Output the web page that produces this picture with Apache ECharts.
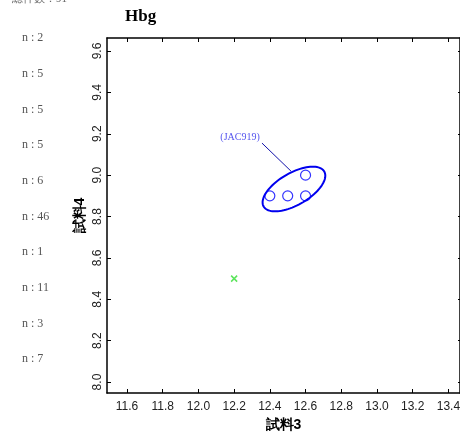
<!DOCTYPE html>
<html><head><meta charset="utf-8">
<script src="https://cdn.jsdelivr.net/npm/echarts@6/dist/echarts.min.js"></script>
<style>html,body{margin:0;padding:0;background:#fff}#c{width:460px;height:436px}</style>
</head><body><div id="c"></div>
<script>
const titleText = 'Hbg';
const xName = '試料3';
const yName = '試料4';
const xTicks = [11.6, 11.8, 12.0, 12.2, 12.4, 12.6, 12.8, 13.0, 13.2, 13.4];
const yTicks = [8.0, 8.2, 8.4, 8.6, 8.8, 9.0, 9.2, 9.4, 9.6];
const xRange = [11.488, 13.465];
const yRange = [7.947, 9.663];
const groupPoints = [[12.4, 8.9], [12.5, 8.9], [12.6, 8.9], [12.6, 9.0]];
const outlierPoints = [[12.2, 8.5]];
const groupLabel = '(JAC919)';
const ellipseCenter = [12.535, 8.933];
const labelAnchor = [12.233, 9.184];
const leaderLine = [[12.356, 9.155], [12.519, 9.019]];
const totalLabel = '総件数：91';
const countLabels = ['n : 2', 'n : 5', 'n : 5', 'n : 5', 'n : 6', 'n : 46', 'n : 1', 'n : 11', 'n : 3', 'n : 7'];

const chart = echarts.init(document.getElementById('c'), null, {renderer: 'canvas'});
const serif = '"Liberation Serif", "DejaVu Serif", serif';
const sans = '"Liberation Sans", Arial, sans-serif';
const graphics = [{type: 'text', left: 12, top: -6, style: {text: totalLabel, font: '11px ' + serif, fill: '#666'}}];
countLabels.forEach((t, i) => {
  graphics.push({type: 'text', left: 22, top: 32 + i * 35.7, style: {text: t, font: '12px ' + serif, fill: '#555'}});
});
const axisCommon = {
  type: 'value', splitLine: {show: false},
  axisLine: {show: true, lineStyle: {color: '#000', width: 1.5}},
};
chart.setOption({
  animation: false,
  title: {text: titleText, left: 120, top: 3, textStyle: {fontFamily: serif, fontWeight: 'bold', fontSize: 17, color: '#000'}},
  graphic: graphics,
  grid: {left: 107, top: 38, right: 0, bottom: 43, containLabel: false, outerBoundsMode: 'none'},
  xAxis: [
    Object.assign({}, axisCommon, {min: xRange[0], max: xRange[1], position: 'bottom',
      name: xName, nameLocation: 'middle', nameGap: 25,
      nameTextStyle: {fontFamily: sans, fontWeight: 'bold', fontSize: 14, color: '#000'},
      axisTick: {show: true, inside: true, length: 4, customValues: xTicks, lineStyle: {color: '#000'}},
      axisLabel: {customValues: xTicks, formatter: v => v.toFixed(1), fontFamily: sans, fontSize: 12, color: '#222', margin: 8}}),
    Object.assign({}, axisCommon, {min: xRange[0], max: xRange[1], position: 'top',
      axisTick: {show: true, inside: true, length: 4, customValues: xTicks, lineStyle: {color: '#000'}},
      axisLabel: {show: false}})
  ],
  yAxis: [
    Object.assign({}, axisCommon, {min: yRange[0], max: yRange[1], position: 'left',
      name: yName, nameLocation: 'middle', nameGap: 20, nameRotate: 90, nameMoveOverlap: false,
      nameTextStyle: {fontFamily: sans, fontWeight: 'bold', fontSize: 14, color: '#000'},
      axisTick: {show: true, inside: true, length: 4, customValues: yTicks, lineStyle: {color: '#000'}},
      axisLabel: {customValues: yTicks, rotate: 90, formatter: v => v.toFixed(1), fontFamily: sans, fontSize: 12, color: '#222', margin: 3}}),
    Object.assign({}, axisCommon, {min: yRange[0], max: yRange[1], position: 'right',
      axisTick: {show: true, inside: true, length: 2, customValues: yTicks, lineStyle: {color: '#000'}},
      axisLabel: {show: false}})
  ],
  series: [
    {type: 'scatter', data: groupPoints, symbol: 'circle', symbolSize: 10,
     itemStyle: {color: 'rgba(255,255,255,0)', borderColor: '#0000ff', borderWidth: 1.2}},
    {type: 'scatter', data: outlierPoints, symbol: 'path://M0,0L10,10M10,0L0,10', symbolSize: 6,
     itemStyle: {color: 'none', borderColor: '#33dd33', borderWidth: 1.5}},
    {type: 'custom', data: [ellipseCenter], renderItem: (params, api) => {
      const c = api.coord([api.value(0), api.value(1)]);
      const rx = 35, ry = 16, a = 30 * Math.PI / 180;
      const pts = [];
      for (let i = 0; i < 90; i++) {
        const t = i / 90 * Math.PI * 2;
        const u = rx * Math.cos(t), v = ry * Math.sin(t);
        pts.push([c[0] + u * Math.cos(a) + v * Math.sin(a), c[1] - u * Math.sin(a) + v * Math.cos(a)]);
      }
      return {type: 'polygon', shape: {points: pts}, style: {fill: 'none', stroke: '#0000ee', lineWidth: 2}};
    }},
    {type: 'custom', data: [labelAnchor], renderItem: (params, api) => {
      const p = api.coord([api.value(0), api.value(1)]);
      const p1 = api.coord(leaderLine[0]);
      const p2 = api.coord(leaderLine[1]);
      return {type: 'group', children: [
        {type: 'text', x: p[0], y: p[1], style: {text: groupLabel, font: '10px ' + serif, fill: '#5555ee', align: 'center', verticalAlign: 'middle'}},
        {type: 'line', shape: {x1: p1[0], y1: p1[1], x2: p2[0], y2: p2[1]}, style: {stroke: '#1111aa', lineWidth: 1}}
      ]};
    }}
  ]
});
</script></body></html>
